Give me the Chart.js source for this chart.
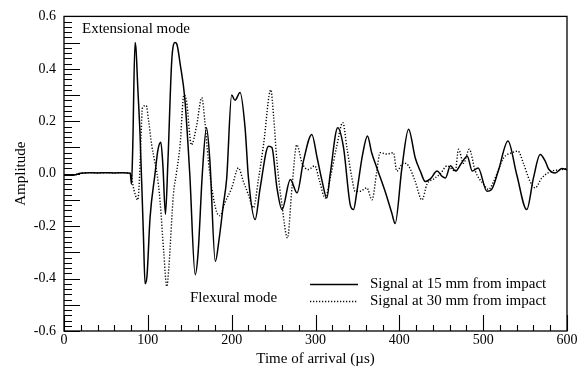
<!DOCTYPE html>
<html>
<head>
<meta charset="utf-8">
<script src="https://cdn.jsdelivr.net/npm/chart.js@4/dist/chart.umd.min.js"></script>
<style>
  html, body { margin: 0; padding: 0; background: #fff; }
  #wrap { width: 580px; height: 368px; }
</style>
</head>
<body>
<div id="wrap"><canvas id="signalChart" width="580" height="368"></canvas></div>
<script>
// signal at 15 mm (solid)
const t15 = [0, 10, 20, 30, 40, 50, 60, 70, 79, 80.5,
  82, 84.7, 86, 88, 90.7, 94.7, 96.7, 99, 102.6, 108.6,
  112, 115.5, 118, 121, 124, 128.5, 132.5, 135, 138.5, 144,
  150, 156.5, 160, 165, 170, 174, 180.5, 185, 190, 194,
  200, 204, 210, 216, 220, 228, 234, 244, 248, 254,
  260, 270, 278, 285.6, 295.6, 302, 308, 313.5, 317.5, 326.5,
  333.4, 341.4, 345.3, 349.4, 356, 362, 367, 373, 383, 391,
  395, 403, 411, 419, 425, 431, 437, 445, 451, 455,
  461, 467, 474, 481, 487, 494, 504.5, 510, 518, 529.6,
  540, 552, 560, 568, 574, 578, 586, 594, 600];
const a15 = [-0.006, -0.006, 0.002, 0.004, 0.003, 0.004, 0.003, 0.004, 0.002, -0.04,
  0.1, 0.5, 0.47, 0.33, 0.15, -0.23, -0.42, -0.39, -0.17, 0.0,
  0.09, 0.12, 0.03, -0.155, 0.05, 0.43, 0.5, 0.49, 0.42, 0.29,
  0.0, -0.385, -0.3, 0.0, 0.175, 0.05, -0.335, -0.25, -0.12, -0.02,
  0.3, 0.28, 0.31, 0.175, -0.016, -0.175, -0.054, 0.105, 0.1, -0.054,
  -0.137, -0.022, -0.073, 0.048, 0.15, 0.06, -0.03, -0.093, -0.003, 0.175,
  0.1, -0.118, -0.137, -0.067, 0.07, 0.144, 0.08, 0.024, -0.067, -0.15,
  -0.19, 0.02, 0.17, 0.06, 0.01, -0.03, -0.02, 0.01, -0.01, -0.016,
  0.03, 0.01, 0.04, 0.067, 0.01, 0.022, -0.067, -0.06, 0.01, 0.125,
  -0.003, -0.137, -0.016, 0.073, 0.048, 0.018, 0.003, 0.02, 0.015];

// signal at 30 mm (dotted)
const t30 = [0, 10, 20, 30, 40, 50, 60, 70, 80, 82,
  85, 88, 90, 92, 93.5, 98, 101, 104.6, 108, 111,
  114.6, 119, 122.6, 125, 130.5, 134, 138.5, 143, 146, 152,
  158, 164.4, 168, 172.2, 176.3, 182, 186, 192, 200, 208,
  214, 220, 226, 232, 238, 246.7, 250, 254, 260, 266.6,
  272, 277.7, 284, 291.6, 299, 305, 311.5, 318, 325, 332.6,
  337.4, 343.4, 347.3, 353, 361.3, 367.3, 373.2, 377, 385, 393,
  397, 405, 411, 419, 427, 433, 441, 449, 457, 466.7,
  470.6, 476.6, 483.4, 490.6, 500.5, 506.5, 512.4, 524.4, 534.3, 541.5,
  548, 556, 562, 570, 582, 592, 600];
const a30 = [-0.006, -0.006, 0.002, 0.004, 0.003, 0.004, 0.003, 0.004, 0.0, -0.04,
  -0.08, -0.1, -0.02, 0.15, 0.25, 0.26, 0.2, 0.11, 0.05, 0.0,
  -0.105, -0.3, -0.43, -0.36, -0.08, 0.0, 0.11, 0.3, 0.28, 0.11,
  0.18, 0.29, 0.2, 0.05, -0.055, -0.145, -0.16, -0.11, -0.055, 0.022,
  -0.03, -0.08, -0.13, -0.02, 0.11, 0.32, 0.22, 0.048, -0.12, -0.245,
  -0.05, 0.11, 0.04, 0.016, 0.03, -0.03, -0.093, -0.01, 0.1, 0.195,
  0.1, -0.016, -0.067, -0.067, -0.054, -0.1, 0.01, 0.08, 0.075, 0.08,
  0.01, 0.041, 0.03, -0.03, -0.1, -0.04, -0.02, 0.0, 0.03, 0.01,
  0.093, 0.04, 0.093, 0.01, -0.04, -0.06, -0.03, 0.06, 0.08, 0.086,
  0.04, -0.03, -0.054, -0.016, 0.01, 0.015, 0.02];

const labels = ['Signal at 15 mm from impact', 'Signal at 30 mm from impact'];
const serif = '"Liberation Serif", "Times New Roman", serif';

function toPoints(ts, vs) {
  return ts.map((t, i) => ({ x: t, y: vs[i] }));
}

// inward ticks, frame, in-plot texts and legend
const frameTicks = {
  id: 'frameTicks',
  afterDatasetsDraw(chart) {
    const { ctx, chartArea: a, scales: { x, y } } = chart;
    ctx.save();
    ctx.strokeStyle = '#000';
    ctx.lineWidth = 1.3;
    ctx.strokeRect(a.left, a.top, a.right - a.left, a.bottom - a.top);

    ctx.lineWidth = 1.1;
    ctx.beginPath();
    for (let i = 0; i <= 60; i++) {
      const py = Math.round(y.getPixelForValue(-0.6 + i * 0.02)) + 0.5;
      const len = i % 5 === 0 ? 16 : 8;
      ctx.moveTo(a.left, py);
      ctx.lineTo(a.left + len, py);
    }
    for (let i = 0; i <= 30; i++) {
      const px = Math.round(x.getPixelForValue(i * 20)) + 0.5;
      const len = i % 5 === 0 ? 16 : 6;
      ctx.moveTo(px, a.bottom);
      ctx.lineTo(px, a.bottom - len);
    }
    ctx.stroke();

    ctx.fillStyle = '#000';
    ctx.font = '15px ' + serif;
    ctx.textBaseline = 'middle';
    ctx.textAlign = 'left';
    ctx.fillText('Extensional mode', x.getPixelForValue(21.5), y.getPixelForValue(0.551));
    ctx.fillText('Flexural mode', x.getPixelForValue(150.3), y.getPixelForValue(-0.475));

    // legend
    const rows = [-0.42, -0.484];
    chart.data.datasets.forEach((ds, i) => {
      const ly = Math.round(y.getPixelForValue(rows[i])) + 0.5;
      ctx.beginPath();
      ctx.strokeStyle = ds.borderColor;
      ctx.lineWidth = ds.borderWidth;
      ctx.setLineDash(ds.borderDash || []);
      ctx.moveTo(x.getPixelForValue(293.5), ly);
      ctx.lineTo(x.getPixelForValue(350.7), ly);
      ctx.stroke();
      ctx.setLineDash([]);
      ctx.fillText(ds.label, x.getPixelForValue(365), ly);
    });
    ctx.restore();
  }
};

new Chart(document.getElementById('signalChart').getContext('2d'), {
  type: 'line',
  data: {
    datasets: [{
      label: labels[0],
      data: toPoints(t15, a15),
      borderColor: '#000',
      borderWidth: 1.5,
      pointRadius: 0,
      fill: false,
      cubicInterpolationMode: 'monotone'
    }, {
      label: labels[1],
      data: toPoints(t30, a30),
      borderColor: '#000',
      borderWidth: 1.4,
      borderDash: [1.2, 1.8],
      pointRadius: 0,
      fill: false,
      cubicInterpolationMode: 'monotone'
    }]
  },
  options: {
    responsive: false,
    animation: false,
    layout: { padding: { top: 15, right: 13, left: 0, bottom: 0 } },
    scales: {
      x: {
        type: 'linear',
        min: 0,
        max: 600,
        grid: { display: false, drawTicks: false },
        border: { display: false },
        ticks: {
          stepSize: 100,
          padding: 1,
          color: '#000',
          font: { family: serif, size: 14 }
        },
        title: {
          display: true,
          text: 'Time of arrival (µs)',
          color: '#000',
          font: { family: serif, size: 15 },
          padding: { top: 0, bottom: 0 }
        },
        afterFit(scale) { scale.height = 37; }
      },
      y: {
        min: -0.6,
        max: 0.6,
        grid: { display: false, drawTicks: false },
        border: { display: false },
        ticks: {
          stepSize: 0.2,
          padding: 8,
          color: '#000',
          font: { family: serif, size: 14 },
          callback: v => v.toFixed(1)
        },
        title: {
          display: true,
          text: 'Amplitude',
          color: '#000',
          font: { family: serif, size: 15 },
          padding: { top: 12, bottom: 0 }
        },
        afterFit(scale) { scale.width = 64; }
      }
    },
    plugins: {
      legend: { display: false },
      tooltip: { enabled: false }
    }
  },
  plugins: [frameTicks]
});
</script>
</body>
</html>
